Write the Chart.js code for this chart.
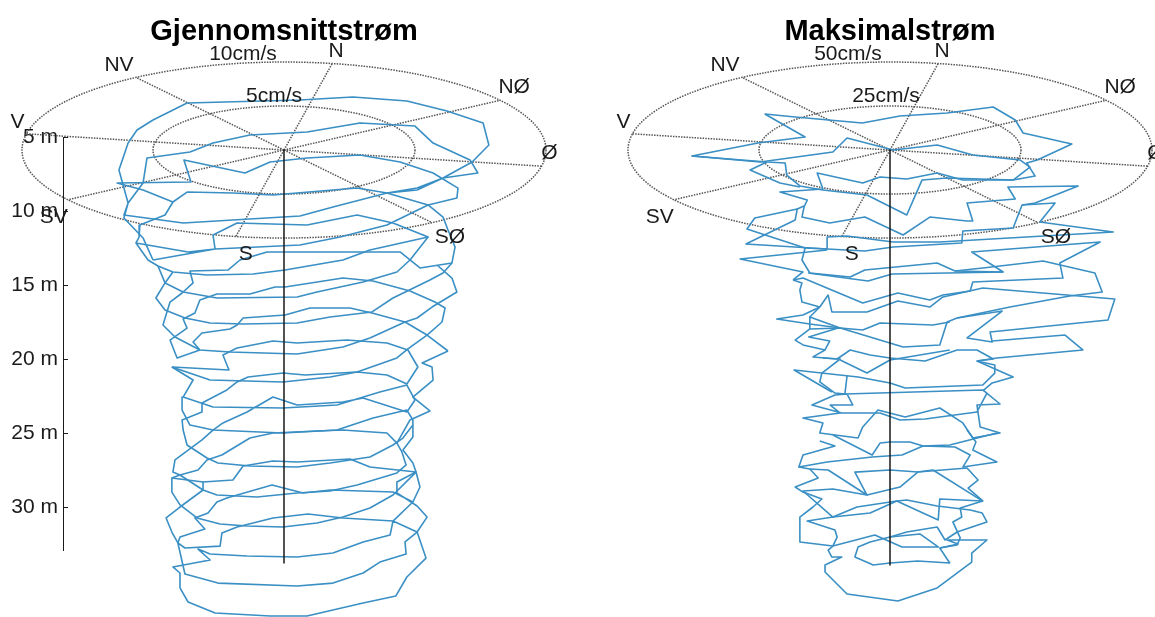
<!DOCTYPE html>
<html>
<head>
<meta charset="utf-8">
<style>
  html, body { margin: 0; background: #fff; overflow: hidden; width: 1155px; height: 617px; }
  canvas { position: absolute; top: 0; }
  #leftChart { left: 0; }
  #rightChart { left: 590px; }
</style>
<script src="https://cdn.jsdelivr.net/npm/chart.js@4"></script>
</head>
<body>
<canvas id="leftChart" width="568" height="617"></canvas>
<canvas id="rightChart" width="600" height="617"></canvas>
<script>
// every trace point is [east component in cm/s, apparent depth in m]
const leftA = [[-4.24,9.39],[-3.70,8.72],[-1.95,8.78],[-0.42,8.92],[1.87,8.58],[2.79,8.45],[3.93,8.78],[5.50,9.59],[6.07,10.41],[6.26,11.28],[6.53,12.43],[6.41,13.51],[5.19,13.85],[4.43,12.77],[2.14,12.77],[-0.65,12.77],[-1.68,13.31],[-2.14,13.99],[-3.59,14.05],[-3.47,14.86],[-3.89,15.54],[-4.35,16.15],[-4.62,17.70],[-4.16,18.51],[-3.21,19.39],[-2.06,19.53],[0.50,19.66],[2.25,19.19],[3.28,18.58],[4.62,17.50],[5.08,17.23],[5.65,16.49],[6.60,15.47],[6.41,14.53],[5.84,13.65]];
const leftB = [[3.93,8.78],[5.08,8.45],[6.07,7.77],[7.40,7.43],[7.10,6.55],[5.69,5.41],[5.00,4.26],[2.90,4.05],[0.88,4.66],[-1.30,4.86],[-2.71,5.41],[-3.59,6.01],[-5.23,6.42],[-5.38,8.11],[-5.95,9.46],[-6.11,10.27],[-3.85,10.81],[-1.95,10.61],[0.61,10.34],[1.87,9.73],[3.93,8.78],[5.08,8.58],[6.07,7.77],[7.18,6.69],[7.82,5.54],[7.60,4.05],[6.22,3.24],[4.69,2.57],[2.63,2.30],[0.61,2.50],[-3.70,2.70],[-5.00,3.85],[-5.61,4.53],[-5.95,5.41],[-6.30,7.23],[-5.95,9.46],[-6.11,10.47],[-5.38,11.82],[-5.00,13.31]];
const leftC = [[-5.00,13.31],[-2.63,12.57],[0.61,12.30],[2.14,11.76],[3.93,10.95],[5.50,9.59],[6.60,9.12],[6.64,8.45],[5.69,7.43],[4.43,6.69],[2.90,6.22],[0.88,6.42],[-0.53,6.69],[-1.49,7.43],[-3.82,6.55],[-3.55,8.04],[-6.37,8.11],[-5.38,8.58],[-4.24,9.39],[-4.54,10.27],[-5.50,10.95],[-5.53,11.76],[-5.65,12.16],[-5.19,13.31],[-4.81,13.72],[-4.24,14.12],[-2.94,14.32],[-1.18,14.26],[0.04,13.99],[2.25,13.31],[3.28,12.64],[5.50,11.76],[4.16,10.81],[2.79,10.27],[0.88,10.95],[-1.79,10.81],[-2.71,11.62],[-2.63,12.57],[-3.66,12.77],[-5.65,12.16]];
const leftD = [[6.41,13.51],[6.07,14.19],[5.57,14.66],[4.16,15.88],[3.36,16.82],[1.76,17.16],[0.50,17.57],[-1.56,17.64],[-2.82,17.57],[-3.78,17.23],[-4.54,16.69],[-4.89,15.88],[-4.54,14.86],[-4.24,14.12]];
const leftE = [[-4.81,13.72],[-4.54,14.86],[-3.85,15.47],[-2.56,15.88],[0.50,15.81],[1.26,15.47],[3.02,14.80],[4.31,14.12],[4.81,13.31],[5.50,11.76]];
const leftF = [[-4.28,20.54],[-2.82,21.42],[-0.04,21.55],[1.76,21.22],[2.79,20.88],[4.31,19.93],[4.73,19.32],[5.46,18.38],[6.03,17.50],[6.15,16.55],[5.76,16.15],[4.81,15.41],[3.40,14.73],[2.25,14.53],[0.04,15.14],[-0.34,15.14],[-1.30,15.61],[-2.56,15.61],[-3.21,16.01],[-3.40,16.89],[-3.85,17.30],[-3.70,17.91],[-4.35,18.72],[-4.08,19.93],[-3.21,19.39]];
const leftG = [[6.26,19.46],[5.46,18.38],[4.62,17.50],[3.36,16.89],[2.52,16.55],[0.99,16.55],[0.04,17.03],[-1.56,17.23],[-1.79,17.70],[-2.06,17.97],[-3.13,18.24],[-3.47,18.85],[-3.21,19.39]];
const leftH = [[-4.28,20.54],[-2.10,20.74],[-2.33,19.73],[-1.79,19.26],[-0.42,18.78],[0.50,18.92],[2.40,18.72],[3.93,18.92],[4.73,19.39],[5.11,20.54],[4.69,21.69],[3.93,21.08],[2.79,20.88],[0.80,21.08],[-0.04,20.95],[-1.37,21.22],[-1.79,21.55],[-2.18,22.09],[-3.13,22.97],[-3.13,23.58],[-3.89,24.12],[-3.85,24.80],[-3.70,25.81],[-2.94,26.69],[-2.52,27.03],[-1.30,27.23],[0.50,27.30],[1.76,27.03],[3.28,26.62],[4.16,25.81],[4.54,25.34],[4.92,24.46]];
const leftI = [[6.26,19.46],[5.27,20.27],[5.65,20.54],[5.69,21.42],[4.92,22.57],[5.57,23.51],[4.81,24.12],[4.31,25.68],[3.93,25.00],[2.25,24.80],[1.26,24.86],[-0.42,25.00],[-1.30,25.34],[-2.37,26.49],[-2.94,26.82],[-3.28,27.50],[-3.97,27.84],[-4.28,28.04],[-4.28,28.99],[-3.97,29.86],[-3.32,30.74],[-2.44,31.15],[-1.41,31.28],[-0.04,31.35],[1.26,31.08],[2.25,30.68],[3.28,30.07],[4.16,29.19],[5.04,27.64]];
const leftJ = [[-4.28,20.54],[-3.47,21.42],[-3.85,22.57],[-2.71,23.24],[-0.04,23.31],[2.02,23.11],[3.66,22.23],[4.69,21.76],[5.00,22.77],[4.69,23.58],[3.02,22.64],[2.25,22.91],[0.50,23.11],[-0.42,22.57],[-1.41,23.58],[-2.33,24.32],[-2.71,24.80],[-3.13,25.47],[-4.16,26.82],[-4.24,27.64],[-3.97,27.84],[-3.09,28.85],[-2.56,29.19],[-1.03,29.32],[0.50,29.05],[1.76,28.92],[2.79,28.51],[4.31,27.70],[4.66,27.16],[4.50,26.28],[4.31,25.68]];
const leftK = [[-3.89,22.57],[-3.89,23.45],[-3.59,24.46],[-2.71,24.80],[-0.04,25.00],[2.02,24.80],[3.40,23.99],[4.69,23.45],[4.92,24.12],[4.92,25.27],[4.54,26.15],[4.92,27.03],[5.04,27.64],[5.19,28.65],[4.92,29.66]];
const leftL = [[-4.28,28.04],[-3.09,28.31],[-1.95,28.18],[-1.56,27.23],[-0.42,26.89],[0.50,26.96],[2.52,26.76],[3.28,27.30],[5.04,27.64],[4.31,28.31],[4.31,29.05],[5.08,29.93],[5.46,30.68],[5.08,31.69],[4.62,32.36],[4.66,33.18],[3.66,33.72],[3.02,34.46],[1.87,35.14],[0.50,35.34],[-2.52,35.14],[-3.78,34.53],[-4.05,32.43],[-3.97,32.03],[-3.02,31.49],[-3.40,30.74],[-2.90,30.41],[-2.56,29.66],[-2.18,29.39],[-0.46,28.51],[0.73,29.05],[1.76,28.85],[4.16,28.99],[4.92,29.66],[4.16,30.95],[4.05,31.89],[3.02,32.36],[1.87,33.11],[0.50,33.38],[-1.41,33.31],[-2.82,33.18],[-3.28,32.84],[-2.82,33.58],[-4.24,34.05],[-3.97,34.46],[-3.97,35.47],[-3.66,36.42],[-2.63,37.16],[-0.53,37.36],[0.88,37.36],[3.02,36.49],[4.27,36.01],[4.69,34.73],[5.42,33.45],[5.08,31.69],[4.16,30.95],[2.25,30.74],[0.92,30.47],[-0.42,30.74],[-1.79,31.35],[-2.37,31.76],[-2.44,32.64],[-3.78,32.77],[-4.05,32.43]];
const leftM = [[-3.09,28.31],[-3.09,28.85],[-3.97,30.00],[-4.50,30.74],[-4.28,31.69],[-4.05,32.43]];

const rightA = [[-23.9,3.45],[-18.1,3.65],[-5.3,4.05],[1.9,3.58],[10.9,3.38],[19.7,2.97],[23.9,3.85],[25.4,4.73],[34.7,5.47],[28.1,6.55],[26.1,6.76],[27.7,7.64],[23.5,7.91],[13.9,7.91],[9.0,7.43],[3.2,7.84],[-1.9,7.70],[-5.2,8.11],[-13.9,7.43],[-12.8,8.51],[-21.0,8.72],[-15.8,9.26],[-16.4,9.73],[-16.8,10.41],[-11.5,10.81],[-4.8,10.41],[2.5,11.62],[7.6,10.41],[14.7,10.68],[15.8,10.68],[14.7,9.46],[23.9,9.19],[22.5,8.38],[35.9,8.31],[27.7,9.46],[25.2,9.59],[23.5,11.15],[13.9,11.35],[13.7,12.16],[0.6,12.43],[-4.8,12.70],[-12.0,12.57],[-16.2,12.50]];
const rightB = [[-23.9,3.45],[-16.2,5.00],[-25.2,5.41],[-37.8,6.28],[-23.5,6.69],[-20.0,6.76],[-19.7,7.57],[-17.2,8.31],[-12.8,8.58],[-4.4,8.92],[3.2,10.27],[6.1,7.91],[10.9,7.77],[23.5,7.91]];
const rightC = [[-37.8,6.28],[-24.8,6.69],[-10.9,6.01],[-8.2,5.07],[0.6,5.88],[9.0,5.54],[15.8,6.22],[24.8,6.55],[26.7,7.03],[23.5,7.91]];
const rightD = [[-23.5,6.69],[-26.7,7.23],[-21.0,8.11],[-17.2,8.38]];
const rightE = [[-16.4,9.66],[-17.7,9.86],[-18.1,10.61],[-27.5,12.23],[-12.0,12.57],[-12.0,11.76],[-8.2,11.69],[0.6,12.09],[9.5,12.09],[42.6,11.42],[28.6,10.74],[31.5,9.46],[25.2,9.59]];
const rightF = [[-17.7,9.86],[-25.8,10.47],[-27.3,11.22],[-16.2,12.50]];
const rightG = [[-12.0,12.64],[-28.6,13.24],[-16.6,14.12],[-18.5,14.66]];
const rightH = [[-16.2,12.50],[-16.8,13.31],[-15.3,14.19],[-7.6,14.46],[-4.8,13.99],[9.0,13.51],[12.4,14.05],[21.6,14.12],[15.6,12.77],[40.1,12.09],[32.4,13.51],[33.0,14.53],[15.8,14.80],[15.3,15.41],[10.1,15.68],[7.6,16.01],[1.5,15.54],[-5.2,16.22],[-16.6,14.53],[-18.5,14.66]];
const rightI = [[-15.6,14.19],[-4.2,14.73],[0.4,14.26],[21.6,14.12]];
const rightJ = [[12.4,14.05],[17.7,13.85],[29.2,13.38],[39.1,14.19],[40.5,15.47],[34.3,15.74],[22.9,16.49],[12.8,17.23]];
const rightK = [[-18.5,14.66],[-16.8,14.86],[-17.2,15.34],[-16.8,16.15],[-13.4,16.49],[-11.8,15.68],[-11.1,16.82],[-4.4,16.82],[1.5,16.08],[7.6,16.49],[10.1,15.81],[17.7,15.20],[42.9,15.95],[41.6,17.36],[19.1,18.18],[19.5,18.85],[14.7,18.58],[21.4,16.76],[12.8,17.23],[10.9,17.50],[9.5,19.05],[2.5,19.19],[-9.5,17.91],[-15.3,17.16],[-13.4,16.49]];
const rightL = [[-13.4,16.49],[-16.6,17.03],[-21.6,17.30],[-15.3,17.64],[-10.9,17.84],[-9.5,17.91]];
const rightM = [[-15.3,17.16],[-15.3,17.97],[-9.5,17.91],[-5.2,18.04],[-1.9,17.57],[8.2,17.70],[11.4,17.50]];
const rightN = [[-15.3,17.97],[-18.1,18.72],[-16.6,19.05],[-12.4,19.39],[-14.7,19.86],[-10.1,20.00],[-7.6,19.39],[-3.8,19.73],[0,19.93],[6.7,20.14],[12.8,19.39],[16.6,19.39],[19.7,20.00],[16.6,20.14],[23.5,21.22],[19.5,21.62],[17.7,22.16]];
const rightO = [[-9.9,17.91],[-15.5,18.51],[-11.5,18.78],[-12.4,19.39]];
const rightP = [[19.5,18.78],[33.4,18.38],[36.8,19.39],[20.4,19.93],[16.6,20.14]];
const rightQ = [[-12.8,19.93],[-9.5,20.00],[-13.0,20.95],[-13.4,21.55],[-10.5,22.30],[-8.6,22.36],[-8.2,21.15]];
const rightR = [[-9.5,20.07],[-4.4,20.95],[0,20.07],[11.4,19.39]];
const rightS = [[-11.1,22.23],[-13.4,21.76],[-18.3,20.74],[-6.1,21.22],[0,21.62],[2.9,21.96],[17.7,21.76],[20.0,20.95],[20.0,20.41],[16.6,20.14]];
const rightT = [[-8.6,22.36],[17.7,22.09],[21.0,23.04],[16.6,23.11],[17.2,24.59],[21.0,25.00],[15.8,25.34],[13.9,24.32],[9.5,23.31],[2.9,23.92],[-2.3,23.45],[-5.2,24.59],[-6.1,25.34],[-13.4,25.00],[-12.8,24.32],[-16.6,23.99],[-9.5,23.65],[-11.4,23.11],[-7.1,23.11],[-8.2,22.36],[-10.5,22.43],[-14.9,23.11],[-9.2,23.65],[-1.9,23.65],[1.9,24.12],[6.7,24.05],[16.6,23.58],[18.5,22.30],[17.7,22.09]];
const rightU = [[-10.9,25.14],[-3.4,26.49],[-1.9,25.68],[0,25.61],[3.8,25.61],[6.3,25.88],[12.4,25.95],[15.3,26.49],[13.9,27.30],[20.4,26.96],[15.8,26.15],[16.4,25.61],[14.7,24.80]];
const rightV = [[-13.4,25.54],[-10.5,25.88],[-16.6,26.49],[-17.4,27.30],[-15.3,27.43],[-13.7,28.04],[-18.1,28.65],[-16.6,28.99],[-13.0,29.46],[-14.7,30.00],[-17.2,30.68],[-17.2,32.36],[-10.9,32.64],[-11.8,32.91],[-11.1,33.38],[-9.2,33.38],[-12.4,33.92],[-12.4,34.39],[-8.2,35.88],[1.5,36.35],[9.0,35.47],[15.6,33.72],[15.6,33.11],[18.5,32.23],[10.9,32.23],[13.0,32.50],[9.5,32.77],[11.4,33.78],[5.3,33.65],[0,33.78],[-3.2,33.92],[-6.7,33.38],[-6.1,32.70],[-3.8,32.36],[0,32.03],[5.7,31.82],[9.2,32.70],[2.3,32.70],[-2.9,31.89],[-10.9,32.64]];
const rightW = [[-17.4,27.30],[-12.0,26.96],[-3.4,26.62],[2.3,26.49],[6.3,25.88],[11.4,25.81],[20.4,25.00]];
const rightX = [[-15.3,27.43],[-11.8,27.50],[-4.4,29.19],[-6.7,27.64],[0,27.50],[5.3,27.64],[8.2,27.50],[17.6,29.59],[9.5,29.46],[9.2,30.88],[1.3,29.59],[-3.8,30.41],[-10.9,30.68],[-15.8,30.95],[-10.5,31.55],[-10.1,32.03],[-10.9,32.64]];
const rightY = [[-4.4,29.19],[1.9,28.65],[5.3,27.64],[14.7,27.36],[16.8,28.18],[14.9,28.72],[17.7,29.59],[13.4,30.07],[13.7,30.68],[12.0,31.01],[13.4,32.09],[12.8,32.57],[9.5,32.77]];
const rightZ = [[-4.4,29.19],[-10.9,28.78],[-16.6,28.92],[-10.9,30.68],[-6.3,30.00],[1.3,29.59],[3.2,29.53],[9.0,29.93],[15.3,30.20],[17.6,30.41],[18.5,31.01],[12.8,31.69],[10.5,32.23],[9.0,31.35],[3.2,31.69],[0,32.03]];

const leftTraces = [leftA, leftB, leftC, leftD, leftE, leftF, leftG, leftH, leftI, leftJ, leftK, leftL, leftM];
const rightTraces = [rightA, rightB, rightC, rightD, rightE, rightF, rightG, rightH, rightI, rightJ, rightK, rightL, rightM, rightN, rightO, rightP, rightQ, rightR, rightS, rightT, rightU, rightV, rightW, rightX, rightY, rightZ];

const compass = ['N', 'NØ', 'Ø', 'SØ', 'S', 'SV', 'V', 'NV'];
const depthTicks = [5, 10, 15, 20, 25, 30];
const leftRings = [5, 10];
const rightRings = [25, 50];
const leftShaft = [[0, 5.88], [0, 33.78]];
const rightShaft = [[0, 5.88], [0, 33.92]];

// label nudges from the spoke end, in pixels, same order as compass
const labelDx = [4, 14, 8, 18, 10, -14, -9, -17];
const labelDy = [-12.5, -13, -13, 15, 17.5, 17, -12, -12];

const LINE_BLUE = '#3a8fc4';
const INK = '#1a1a1a';
const FONT = '"Liberation Sans", Arial, sans-serif';
const RING_DEPTH = 5.88;   // depth at which the rose is drawn
const TILT_M = 5.946;      // vertical half height of the outer ring in m
const NORTH_ANGLE = 79.4;  // screen angle of the N spoke, the rose is rotated a bit

function rosePlugin(rings, labelTexts, labelShift) {
  const outer = rings[rings.length - 1];
  function spokeEnd(i) {
    const a = (NORTH_ANGLE - 45 * i) * Math.PI / 180;
    return { x: outer * Math.cos(a), y: RING_DEPTH - TILT_M * Math.sin(a) };
  }
  return {
    id: 'rose',
    beforeDatasetsDraw(chart) {
      const sx = chart.scales.x, sy = chart.scales.y, ctx = chart.ctx;
      const cx = sx.getPixelForValue(0), cy = sy.getPixelForValue(RING_DEPTH);
      ctx.save();
      ctx.strokeStyle = '#555';
      ctx.lineWidth = 1.5;
      ctx.setLineDash([1.5, 1.2]);
      rings.forEach(r => {
        const rx = sx.getPixelForValue(r) - cx;
        const ry = (sy.getPixelForValue(RING_DEPTH + TILT_M) - cy) * r / outer;
        ctx.beginPath();
        ctx.ellipse(cx, cy, rx, ry, 0, 0, Math.PI * 2);
        ctx.stroke();
      });
      compass.forEach((d, i) => {
        const e = spokeEnd(i);
        ctx.beginPath();
        ctx.moveTo(cx, cy);
        ctx.lineTo(sx.getPixelForValue(e.x), sy.getPixelForValue(e.y));
        ctx.stroke();
      });
      ctx.restore();
    },
    afterDatasetsDraw(chart) {
      const sx = chart.scales.x, sy = chart.scales.y, ctx = chart.ctx;
      ctx.save();
      ctx.fillStyle = INK;
      ctx.font = '21px ' + FONT;
      ctx.textAlign = 'center';
      ctx.textBaseline = 'middle';
      compass.forEach((d, i) => {
        const e = spokeEnd(i);
        ctx.fillText(d, sx.getPixelForValue(e.x) + labelDx[i], sy.getPixelForValue(e.y) + labelDy[i]);
      });
      // ring speed labels sit just above the back of each ring
      labelTexts.forEach((t, i) => {
        const top = sy.getPixelForValue(RING_DEPTH - TILT_M * rings[i] / outer);
        ctx.fillText(t, sx.getPixelForValue(0) + labelShift[i], top - (i == 0 ? 9.5 : 8));
      });
      // short inward ticks on the depth axis
      if (chart.options.scales.y.display) {
        ctx.strokeStyle = INK;
        ctx.lineWidth = 1;
        depthTicks.forEach(v => {
          const y = Math.round(sy.getPixelForValue(v)) + 0.5;
          ctx.beginPath();
          ctx.moveTo(sx.left, y);
          ctx.lineTo(sx.left + 5, y);
          ctx.stroke();
        });
      }
      ctx.restore();
    }
  };
}

function traceDataset(points, color, width) {
  return {
    data: points.map(p => ({ x: p[0], y: p[1] })),
    showLine: true,
    pointRadius: 0,
    borderColor: color,
    borderWidth: width,
    borderJoinStyle: 'round',
    tension: 0,
    fill: false,
    clip: false
  };
}

function drawPanel(id, title, traces, shaft, rings, ringLabels, ringShift, xMin, xMax, showDepth) {
  const datasets = [traceDataset(shaft, INK, 1.5)];
  traces.forEach(t => datasets.push(traceDataset(t, LINE_BLUE, 1.6)));
  new Chart(document.getElementById(id), {
    type: 'scatter',
    data: { datasets },
    options: {
      responsive: false,
      animation: false,
      layout: { padding: { bottom: 67 } },
      scales: {
        x: { type: 'linear', display: false, min: xMin, max: xMax },
        y: {
          type: 'linear',
          display: showDepth,
          reverse: true,
          min: 5,
          max: 32.905,
          afterBuildTicks: axis => { axis.ticks = depthTicks.map(v => ({ value: v })); },
          afterFit: scale => { if (showDepth) scale.width = 63; },
          grid: { display: false, tickLength: 0 },
          border: { display: true, color: INK, width: 1 },
          ticks: {
            color: INK,
            padding: 5,
            font: { family: FONT, size: 21 },
            callback: v => v + ' m'
          }
        }
      },
      plugins: {
        legend: { display: false },
        tooltip: { enabled: false },
        title: {
          display: true,
          text: title,
          color: '#000',
          font: { family: FONT, size: 29, weight: 'bold' },
          padding: { top: 15, bottom: 87.2 }
        }
      }
    },
    plugins: [rosePlugin(rings, ringLabels, ringShift)]
  });
}

drawPanel('leftChart', 'Gjennomsnittstrøm', leftTraces, leftShaft, leftRings, ['5cm/s', '10cm/s'], [-10, -41], -8.435, 10.84, true);
drawPanel('rightChart', 'Maksimalstrøm', rightTraces, rightShaft, rightRings, ['25cm/s', '50cm/s'], [-4, -42], -57.25, 57.25, false);
</script>
</body>
</html>
